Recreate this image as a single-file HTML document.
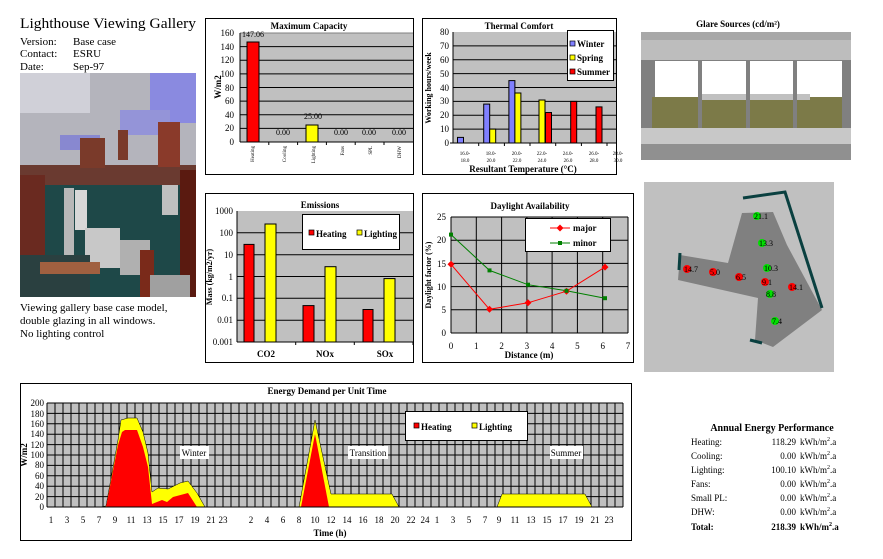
<!DOCTYPE html>
<html><head><meta charset="utf-8"><style>
html,body{margin:0;padding:0;background:#fff;}
svg{display:block;font-family:"Liberation Serif",serif;}
.b{font-weight:bold;}
</style></head><body>
<svg width="883" height="559" viewBox="0 0 883 559" xmlns="http://www.w3.org/2000/svg">
<rect width="883" height="559" fill="#fff"/>

<!-- Left header -->
<text x="20" y="28" font-size="15" textLength="176" lengthAdjust="spacingAndGlyphs">Lighthouse Viewing Gallery</text>
<g font-size="11">
<text x="20" y="45">Version:</text><text x="73" y="45">Base case</text>
<text x="20" y="57">Contact:</text><text x="73" y="57">ESRU</text>
<text x="20" y="70">Date:</text><text x="73" y="70">Sep-97</text>
<text x="20" y="311">Viewing gallery base case model,</text>
<text x="20" y="324">double glazing in all windows.</text>
<text x="20" y="337">No lighting control</text>
</g>
<!-- photo -->
<g>
<rect x="20" y="73" width="176" height="224" fill="#1e4848"/>
<rect x="20" y="73" width="176" height="92" fill="#b4b4bc"/>
<rect x="20" y="73" width="70" height="40" fill="#d0d0d8"/>
<rect x="150" y="73" width="46" height="50" fill="#8a8ae0"/>
<rect x="120" y="110" width="50" height="25" fill="#9494d8"/>
<rect x="60" y="135" width="40" height="15" fill="#8888d0"/>
<rect x="20" y="165" width="176" height="20" fill="#6a3a30"/>
<rect x="80" y="138" width="25" height="30" fill="#7a3a2a"/>
<rect x="118" y="130" width="10" height="30" fill="#7a3a2a"/>
<rect x="158" y="122" width="22" height="45" fill="#8a3a2a"/>
<rect x="20" y="175" width="25" height="80" fill="#6a2a20"/>
<rect x="64" y="188" width="10" height="70" fill="#b8b8b8"/>
<rect x="75" y="190" width="12" height="40" fill="#d8d8d8"/>
<rect x="85" y="228" width="35" height="40" fill="#c8c8c8"/>
<rect x="120" y="240" width="30" height="35" fill="#b0b0b0"/>
<rect x="140" y="250" width="14" height="47" fill="#7a2a1a"/>
<rect x="180" y="170" width="16" height="127" fill="#5a1a10"/>
<rect x="162" y="185" width="16" height="30" fill="#c0c0c0"/>
<rect x="20" y="255" width="70" height="42" fill="#2a4040"/>
<rect x="40" y="262" width="60" height="12" fill="#a06040"/>
<rect x="150" y="275" width="40" height="22" fill="#a0a0a0"/>
</g>

<!-- ===== Maximum Capacity ===== -->
<rect x="205.5" y="18.5" width="208" height="156" fill="#fff" stroke="#000"/>
<rect x="240" y="33" width="173" height="109" fill="#c0c0c0"/>
<g stroke="#000" stroke-width="1">
<line x1="240" y1="128.4" x2="413" y2="128.4"/><line x1="240" y1="114.8" x2="413" y2="114.8"/>
<line x1="240" y1="101.1" x2="413" y2="101.1"/><line x1="240" y1="87.5" x2="413" y2="87.5"/>
<line x1="240" y1="73.9" x2="413" y2="73.9"/><line x1="240" y1="60.3" x2="413" y2="60.3"/>
<line x1="240" y1="46.6" x2="413" y2="46.6"/><line x1="240" y1="33" x2="413" y2="33" stroke="#808080"/>
</g>
<rect x="247" y="42" width="12" height="100" fill="#f00" stroke="#000"/>
<rect x="306" y="125" width="12" height="17" fill="#ff0" stroke="#000"/>
<g stroke="#000"><line x1="240" y1="33" x2="240" y2="142"/><line x1="240" y1="142" x2="413" y2="142"/>
<line x1="268.8" y1="142" x2="268.8" y2="145"/><line x1="297.6" y1="142" x2="297.6" y2="145"/><line x1="326.4" y1="142" x2="326.4" y2="145"/><line x1="355.2" y1="142" x2="355.2" y2="145"/><line x1="384" y1="142" x2="384" y2="145"/></g>
<g font-size="9" text-anchor="end">
<text x="234" y="145">0</text><text x="234" y="131">20</text><text x="234" y="118">40</text><text x="234" y="104">60</text><text x="234" y="91">80</text><text x="234" y="77">100</text><text x="234" y="63">120</text><text x="234" y="50">140</text><text x="234" y="36">160</text>
</g>
<text class="b" x="309" y="29" font-size="9" text-anchor="middle">Maximum Capacity</text>
<text class="b" x="221" y="87" font-size="9" text-anchor="middle" transform="rotate(-90 221 87)">W/m2</text>
<g font-size="8" text-anchor="middle">
<text x="253" y="37">147.06</text><text x="313" y="119">25.00</text>
<text x="283" y="135">0.00</text><text x="341" y="135">0.00</text><text x="369" y="135">0.00</text><text x="399" y="135">0.00</text>
</g>
<g font-size="5" text-anchor="end">
<text transform="translate(254 146) rotate(-90)">Heating</text>
<text transform="translate(286 146) rotate(-90)">Cooling</text>
<text transform="translate(315 146) rotate(-90)">Lighting</text>
<text transform="translate(344 146) rotate(-90)">Fans</text>
<text transform="translate(372 146) rotate(-90)">SPL</text>
<text transform="translate(401 146) rotate(-90)">DHW</text>
</g>

<!-- ===== Thermal Comfort ===== -->
<rect x="422.5" y="18.5" width="194" height="156" fill="#fff" stroke="#000"/>
<rect x="453" y="32" width="163" height="111" fill="#c0c0c0"/>
<g stroke="#000">
<line x1="453" y1="129.1" x2="616" y2="129.1"/><line x1="453" y1="115.3" x2="616" y2="115.3"/><line x1="453" y1="101.4" x2="616" y2="101.4"/><line x1="453" y1="87.5" x2="616" y2="87.5"/><line x1="453" y1="73.6" x2="616" y2="73.6"/><line x1="453" y1="59.8" x2="616" y2="59.8"/><line x1="453" y1="45.9" x2="616" y2="45.9"/>
</g>
<g stroke="#000">
<rect x="457.5" y="137.4" width="6" height="5.6" fill="#8080ff"/>
<rect x="483.7" y="104.1" width="6" height="38.9" fill="#8080ff"/>
<rect x="489.7" y="129.1" width="6" height="13.9" fill="#ff0"/>
<rect x="508.9" y="80.6" width="6" height="62.4" fill="#8080ff"/>
<rect x="514.9" y="93" width="6" height="50" fill="#ff0"/>
<rect x="539" y="100" width="6" height="43" fill="#ff0"/>
<rect x="545.5" y="112.5" width="6" height="30.5" fill="#f00"/>
<rect x="570.7" y="101.4" width="6" height="41.6" fill="#f00"/>
<rect x="596" y="106.9" width="6" height="36.1" fill="#f00"/>
</g>
<g stroke="#000"><line x1="453" y1="32" x2="453" y2="143"/><line x1="450" y1="143" x2="616" y2="143"/>
<line x1="478.7" y1="143" x2="478.7" y2="146"/><line x1="504.4" y1="143" x2="504.4" y2="146"/><line x1="530" y1="143" x2="530" y2="146"/><line x1="555.7" y1="143" x2="555.7" y2="146"/><line x1="581.4" y1="143" x2="581.4" y2="146"/><line x1="607" y1="143" x2="607" y2="146"/></g>
<g font-size="9" text-anchor="end">
<text x="449" y="146">0</text><text x="449" y="132">10</text><text x="449" y="118">20</text><text x="449" y="104">30</text><text x="449" y="91">40</text><text x="449" y="77">50</text><text x="449" y="63">60</text><text x="449" y="49">70</text><text x="449" y="35">80</text>
</g>
<g font-size="5" text-anchor="middle">
<text x="465" y="155">16.0-</text><text x="465" y="162">18.0</text>
<text x="491" y="155">18.0-</text><text x="491" y="162">20.0</text>
<text x="517" y="155">20.0-</text><text x="517" y="162">22.0</text>
<text x="542" y="155">22.0-</text><text x="542" y="162">24.0</text>
<text x="568" y="155">24.0-</text><text x="568" y="162">26.0</text>
<text x="594" y="155">26.0-</text><text x="594" y="162">28.0</text>
<text x="618" y="155">28.0-</text><text x="618" y="162">30.0</text>
</g>
<text class="b" x="519" y="29" font-size="9" text-anchor="middle">Thermal Comfort</text>
<text class="b" x="523" y="172" font-size="9" text-anchor="middle">Resultant Temperature (°C)</text>
<text class="b" x="431" y="88" font-size="8" text-anchor="middle" transform="rotate(-90 431 88)">Working hours/week</text>
<rect x="567.5" y="30.5" width="46" height="50" fill="#fff" stroke="#000"/>
<rect x="570" y="41" width="5" height="5" fill="#8080ff" stroke="#000" stroke-width="0.7"/>
<rect x="570" y="55" width="5" height="5" fill="#ff0" stroke="#000" stroke-width="0.7"/>
<rect x="570" y="69" width="5" height="5" fill="#f00" stroke="#000" stroke-width="0.7"/>
<g font-size="9" class="b"><text x="577" y="47">Winter</text><text x="577" y="61">Spring</text><text x="577" y="75">Summer</text></g>

<!-- ===== Emissions ===== -->
<rect x="205.5" y="193.5" width="208" height="169" fill="#fff" stroke="#000"/>
<rect x="237" y="211" width="176" height="131" fill="#c0c0c0"/>
<g stroke="#000">
<line x1="237" y1="320.2" x2="413" y2="320.2"/><line x1="237" y1="298.3" x2="413" y2="298.3"/><line x1="237" y1="276.5" x2="413" y2="276.5"/><line x1="237" y1="254.7" x2="413" y2="254.7"/><line x1="237" y1="232.8" x2="413" y2="232.8"/>
</g>
<g stroke="#000">
<rect x="244" y="244.4" width="10" height="97.6" fill="#f00"/>
<rect x="265" y="224" width="11" height="118" fill="#ff0"/>
<rect x="303" y="305.6" width="11" height="36.4" fill="#f00"/>
<rect x="325" y="266.7" width="11" height="75.3" fill="#ff0"/>
<rect x="363" y="309.5" width="10" height="32.5" fill="#f00"/>
<rect x="384" y="278.6" width="11" height="63.4" fill="#ff0"/>
</g>
<g stroke="#000"><line x1="237" y1="211" x2="237" y2="342"/><line x1="237" y1="342" x2="413" y2="342"/>
<line x1="295.7" y1="342" x2="295.7" y2="345"/><line x1="354.3" y1="342" x2="354.3" y2="345"/><line x1="413" y1="342" x2="413" y2="345"/></g>
<g font-size="9" text-anchor="end">
<text x="233" y="214">1000</text><text x="233" y="236">100</text><text x="233" y="258">10</text><text x="233" y="280">1</text><text x="233" y="301">0.1</text><text x="233" y="323">0.01</text><text x="233" y="345">0.001</text>
</g>
<g font-size="9" class="b" text-anchor="middle"><text x="266" y="357">CO2</text><text x="325" y="357">NOx</text><text x="385" y="357">SOx</text></g>
<text class="b" x="320" y="208" font-size="9" text-anchor="middle">Emissions</text>
<text class="b" x="212" y="277" font-size="8" text-anchor="middle" transform="rotate(-90 212 277)">Mass (kg/m2/yr)</text>
<rect x="302.5" y="214.5" width="97" height="35" fill="#fff" stroke="#000"/>
<rect x="309" y="230" width="5" height="5" fill="#f00" stroke="#000" stroke-width="0.7"/>
<rect x="357" y="230" width="5" height="5" fill="#ff0" stroke="#000" stroke-width="0.7"/>
<g font-size="9" class="b"><text x="316" y="237">Heating</text><text x="364" y="237">Lighting</text></g>

<!-- ===== Daylight Availability ===== -->
<rect x="422.5" y="193.5" width="211" height="169" fill="#fff" stroke="#000"/>
<rect x="451" y="217" width="177" height="116" fill="#c0c0c0"/>
<g stroke="#000">
<line x1="451" y1="309.8" x2="628" y2="309.8"/><line x1="451" y1="286.6" x2="628" y2="286.6"/><line x1="451" y1="263.4" x2="628" y2="263.4"/><line x1="451" y1="240.2" x2="628" y2="240.2"/><line x1="451" y1="217" x2="628" y2="217"/>
<line x1="476.3" y1="217" x2="476.3" y2="333"/><line x1="501.6" y1="217" x2="501.6" y2="333"/><line x1="526.9" y1="217" x2="526.9" y2="333"/><line x1="552.1" y1="217" x2="552.1" y2="333"/><line x1="577.4" y1="217" x2="577.4" y2="333"/><line x1="602.7" y1="217" x2="602.7" y2="333"/><line x1="628" y1="217" x2="628" y2="333"/>
<line x1="451" y1="217" x2="451" y2="333"/><line x1="451" y1="333" x2="628" y2="333"/>
</g>
<polyline points="451,264.3 489.5,309.3 528,302.8 566.5,291.2 605,267.1" fill="none" stroke="#f00"/>
<polyline points="451,234.6 489.5,270.4 528,284.7 566.5,290.8 605,298.2" fill="none" stroke="#008000"/>
<g fill="#f00"><path d="M451 260.8l3.5 3.5-3.5 3.5-3.5-3.5z"/><path d="M489.5 305.8l3.5 3.5-3.5 3.5-3.5-3.5z"/><path d="M528 299.3l3.5 3.5-3.5 3.5-3.5-3.5z"/><path d="M566.5 287.7l3.5 3.5-3.5 3.5-3.5-3.5z"/><path d="M605 263.6l3.5 3.5-3.5 3.5-3.5-3.5z"/></g>
<g fill="#008000"><rect x="449" y="232.6" width="4" height="4"/><rect x="487.5" y="268.4" width="4" height="4"/><rect x="526" y="282.7" width="4" height="4"/><rect x="564.5" y="288.8" width="4" height="4"/><rect x="603" y="296.2" width="4" height="4"/></g>
<g font-size="9" text-anchor="end">
<text x="446" y="336">0</text><text x="446" y="313">5</text><text x="446" y="290">10</text><text x="446" y="267">15</text><text x="446" y="243">20</text><text x="446" y="220">25</text>
</g>
<g font-size="9" text-anchor="middle">
<text x="451" y="349">0</text><text x="476.3" y="349">1</text><text x="501.6" y="349">2</text><text x="526.9" y="349">3</text><text x="552.1" y="349">4</text><text x="577.4" y="349">5</text><text x="602.7" y="349">6</text><text x="628" y="349">7</text>
</g>
<text class="b" x="530" y="209" font-size="9" text-anchor="middle">Daylight Availability</text>
<text class="b" x="529" y="358" font-size="9" text-anchor="middle">Distance (m)</text>
<text class="b" x="431" y="275" font-size="8" text-anchor="middle" transform="rotate(-90 431 275)">Daylight factor (%)</text>
<rect x="525.5" y="218.5" width="85" height="33" fill="#fff" stroke="#000"/>
<line x1="550" y1="228" x2="570" y2="228" stroke="#f00"/><path d="M560 224.5l3.5 3.5-3.5 3.5-3.5-3.5z" fill="#f00"/>
<line x1="550" y1="243" x2="570" y2="243" stroke="#008000"/><rect x="558" y="241" width="4" height="4" fill="#008000"/>
<g font-size="9" class="b"><text x="573" y="231">major</text><text x="573" y="246">minor</text></g>

<!-- ===== Glare Sources ===== -->
<text class="b" x="738" y="27" font-size="9" text-anchor="middle">Glare Sources (cd/m²)</text>
<rect x="641" y="32" width="210" height="128" fill="#808080"/>
<rect x="641" y="32" width="210" height="28" fill="#bdbdbd"/>
<rect x="641" y="32" width="210" height="8" fill="#a8a8a8"/>
<rect x="655" y="61" width="197" height="36" fill="#fff"/>
<rect x="652" y="97" width="195" height="31" fill="#7c7a48"/>
<rect x="700" y="94" width="110" height="6" fill="#c0c0c0"/>
<rect x="641" y="128" width="210" height="16" fill="#c8c8c8"/>
<rect x="641" y="144" width="210" height="16" fill="#909090"/>
<g fill="#808080"><rect x="641" y="60" width="11" height="68"/><rect x="698" y="60" width="4" height="68"/><rect x="746" y="60" width="4" height="68"/><rect x="793" y="60" width="4" height="68"/><rect x="842" y="60" width="9" height="68"/></g>

<!-- ===== Plan ===== -->
<rect x="644" y="182" width="190" height="190" fill="#c0c0c0"/>
<polygon points="742,213 773,212 787,245 822,310 773,347 755,340 758,298 678,280 680,255 728,263" fill="#808080"/>
<g stroke="#0a4040" stroke-width="3" fill="none">
<polyline points="743,198 785,192 822,308"/>
<line x1="680" y1="253" x2="679" y2="270"/>
<line x1="750" y1="340" x2="762" y2="343"/>
</g>
<g fill="#00e000"><circle cx="757" cy="216" r="4"/><circle cx="762" cy="243" r="4"/><circle cx="767" cy="268" r="4"/><circle cx="770" cy="294" r="4"/><circle cx="775" cy="321" r="4"/></g>
<g fill="#f00"><circle cx="687" cy="269" r="4"/><circle cx="713" cy="272" r="4"/><circle cx="739" cy="277" r="4"/><circle cx="765" cy="282" r="4"/><circle cx="792" cy="287" r="4"/></g>
<g font-size="8">
<text x="754" y="219">21.1</text><text x="759" y="246">13.3</text><text x="764" y="271">10.3</text><text x="766" y="297">8.8</text><text x="772" y="324">7.4</text>
<text x="684" y="272">14.7</text><text x="710" y="275">5.0</text><text x="736" y="280">6.5</text><text x="762" y="285">9.1</text><text x="789" y="290">14.1</text>
</g>

<!-- ===== Energy Demand ===== -->
<rect x="20.5" y="383.5" width="611" height="157" fill="#fff" stroke="#000"/>
<rect x="47" y="403" width="576" height="104" fill="#c0c0c0"/>
<path stroke="#000" stroke-width="1" fill="none" d="M55 403V507M63 403V507M71 403V507M79 403V507M87 403V507M95 403V507M103 403V507M111 403V507M119 403V507M127 403V507M135 403V507M143 403V507M151 403V507M159 403V507M167 403V507M175 403V507M183 403V507M191 403V507M199 403V507M207 403V507M215 403V507M223 403V507M231 403V507M239 403V507M247 403V507M255 403V507M263 403V507M271 403V507M279 403V507M287 403V507M295 403V507M303 403V507M311 403V507M319 403V507M327 403V507M335 403V507M343 403V507M351 403V507M359 403V507M367 403V507M375 403V507M383 403V507M391 403V507M399 403V507M407 403V507M415 403V507M423 403V507M431 403V507M439 403V507M447 403V507M455 403V507M463 403V507M471 403V507M479 403V507M487 403V507M495 403V507M503 403V507M511 403V507M519 403V507M527 403V507M535 403V507M543 403V507M551 403V507M559 403V507M567 403V507M575 403V507M583 403V507M591 403V507M599 403V507M607 403V507M615 403V507M623 403V507
M47 496.6H623M47 486.2H623M47 475.8H623M47 465.4H623M47 455H623M47 444.6H623M47 434.2H623M47 423.8H623M47 413.4H623M47 403H623"/>
<polygon points="100,507 106,506 118,440 121,420 128,418 137,418 143,432 148,453 152,492 158,488 168,489 180,483 188,481 197,493 205,507" fill="#ff0" stroke="#000" stroke-width="0.5"/>
<polygon points="106,507 118,445 122,432 125,430 137,430 143,447 148,467 152,504 162,500 167,502 173,497 188,493 197,507" fill="#f00"/>
<polygon points="299,507 315,420 331,494 392,494 399,507" fill="#ff0" stroke="#000" stroke-width="0.5"/>
<polygon points="301,507 315,434 329,507" fill="#f00"/>
<polygon points="497,507 502,494 585,494 592,507" fill="#ff0" stroke="#000" stroke-width="0.5"/>
<g stroke="#000"><line x1="47" y1="403" x2="47" y2="507"/><line x1="47" y1="507" x2="623" y2="507"/></g>
<g font-size="9" text-anchor="end">
<text x="44" y="510">0</text><text x="44" y="500">20</text><text x="44" y="489">40</text><text x="44" y="479">60</text><text x="44" y="468">80</text><text x="44" y="458">100</text><text x="44" y="448">120</text><text x="44" y="437">140</text><text x="44" y="427">160</text><text x="44" y="417">180</text><text x="44" y="406">200</text>
</g>
<g font-size="9" text-anchor="middle">
<text x="51" y="523">1</text><text x="67" y="523">3</text><text x="83" y="523">5</text><text x="99" y="523">7</text><text x="115" y="523">9</text><text x="131" y="523">11</text><text x="147" y="523">13</text><text x="163" y="523">15</text><text x="179" y="523">17</text><text x="195" y="523">19</text><text x="211" y="523">21</text><text x="223" y="523">23</text>
<text x="251" y="523">2</text><text x="267" y="523">4</text><text x="283" y="523">6</text><text x="299" y="523">8</text><text x="315" y="523">10</text><text x="331" y="523">12</text><text x="347" y="523">14</text><text x="363" y="523">16</text><text x="379" y="523">18</text><text x="395" y="523">20</text><text x="411" y="523">22</text><text x="425" y="523">24</text>
<text x="437" y="523">1</text><text x="453" y="523">3</text><text x="469" y="523">5</text><text x="485" y="523">7</text><text x="499" y="523">9</text><text x="515" y="523">11</text><text x="531" y="523">13</text><text x="547" y="523">15</text><text x="563" y="523">17</text><text x="579" y="523">19</text><text x="595" y="523">21</text><text x="609" y="523">23</text>
</g>
<text class="b" x="327" y="394" font-size="9" text-anchor="middle">Energy Demand per Unit Time</text>
<text class="b" x="330" y="536" font-size="9" text-anchor="middle">Time (h)</text>
<text class="b" x="27" y="455" font-size="9" text-anchor="middle" transform="rotate(-90 27 455)">W/m2</text>
<rect x="180" y="446" width="29" height="13" fill="#fff"/><text x="194" y="456" font-size="9" text-anchor="middle">Winter</text>
<rect x="348" y="446" width="40" height="13" fill="#fff"/><text x="368" y="456" font-size="9" text-anchor="middle">Transition</text>
<rect x="550" y="446" width="33" height="13" fill="#fff"/><text x="566" y="456" font-size="9" text-anchor="middle">Summer</text>
<rect x="405.5" y="411.5" width="122" height="29" fill="#fff" stroke="#000"/>
<rect x="414" y="423" width="5" height="5" fill="#f00" stroke="#000" stroke-width="0.7"/>
<rect x="472" y="423" width="5" height="5" fill="#ff0" stroke="#000" stroke-width="0.7"/>
<g font-size="9" class="b"><text x="421" y="430">Heating</text><text x="479" y="430">Lighting</text></g>

<!-- ===== Annual Energy Performance ===== -->
<text class="b" x="772" y="431" font-size="10" text-anchor="middle">Annual Energy Performance</text>
<g font-size="9">
<text x="691" y="445">Heating:</text><text x="691" y="459">Cooling:</text><text x="691" y="473">Lighting:</text><text x="691" y="487">Fans:</text><text x="691" y="501">Small PL:</text><text x="691" y="515">DHW:</text>
<text class="b" x="691" y="530">Total:</text>
</g>
<g font-size="9" text-anchor="end">
<text x="796" y="445">118.29</text><text x="796" y="459">0.00</text><text x="796" y="473">100.10</text><text x="796" y="487">0.00</text><text x="796" y="501">0.00</text><text x="796" y="515">0.00</text>
<text class="b" x="796" y="530">218.39</text>
</g>
<g font-size="9">
<text x="800" y="445">kWh/m<tspan dy="-4" font-size="6">2</tspan><tspan dy="4">.a</tspan></text>
<text x="800" y="459">kWh/m<tspan dy="-4" font-size="6">2</tspan><tspan dy="4">.a</tspan></text>
<text x="800" y="473">kWh/m<tspan dy="-4" font-size="6">2</tspan><tspan dy="4">.a</tspan></text>
<text x="800" y="487">kWh/m<tspan dy="-4" font-size="6">2</tspan><tspan dy="4">.a</tspan></text>
<text x="800" y="501">kWh/m<tspan dy="-4" font-size="6">2</tspan><tspan dy="4">.a</tspan></text>
<text x="800" y="515">kWh/m<tspan dy="-4" font-size="6">2</tspan><tspan dy="4">.a</tspan></text>
<text class="b" x="800" y="530">kWh/m<tspan dy="-4" font-size="6">2</tspan><tspan dy="4">.a</tspan></text>
</g>
</svg>
</body></html>
